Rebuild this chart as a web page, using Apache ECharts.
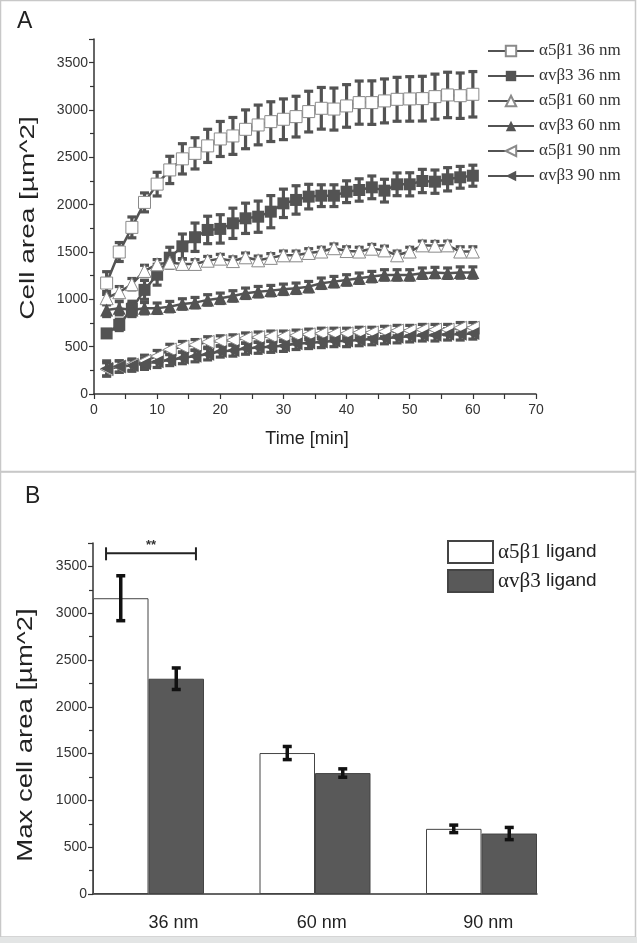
<!DOCTYPE html>
<html><head><meta charset="utf-8">
<script src="https://cdn.jsdelivr.net/npm/echarts@6/dist/echarts.min.js"></script>
<style>html,body{margin:0;padding:0;background:#fff}#c{width:637px;height:943px}</style>
</head><body><div id="c"></div>
<script>
// ---------- Panel A data ----------
const times = [2,4,6,8,10,12,14,16,18,20,22,24,26,28,30,32,34,36,38,40,42,44,46,48,50,52,54,56,58,60];
const a5b1_36 = [1172,1500,1760,2024,2217,2367,2484,2542,2621,2694,2726,2796,2842,2877,2902,2930,2983,3018,3010,3043,3078,3078,3096,3113,3117,3120,3141,3159,3151,3166];
const a5b1_36_err = [120,100,110,100,125,144,160,165,175,185,195,205,210,210,215,215,215,220,222,225,228,230,232,232,235,236,238,240,240,240];
const avb3_36 = [640,730,900,1100,1260,1440,1560,1656,1733,1744,1803,1856,1873,1926,2014,2050,2085,2095,2095,2137,2155,2183,2148,2215,2215,2250,2243,2268,2289,2306];
const avb3_36_err = [40,60,80,100,110,110,130,150,145,150,160,160,165,170,150,150,130,115,115,115,118,120,120,120,122,123,123,123,115,111];
const a5b1_60 = [1012,1075,1160,1300,1370,1388,1374,1374,1408,1430,1404,1444,1412,1438,1465,1465,1490,1505,1540,1510,1505,1535,1517,1465,1505,1570,1567,1570,1505,1505];
const a5b1_60_err = [70,60,60,60,50,50,50,45,45,45,45,45,45,45,45,45,45,45,45,45,45,45,45,45,45,45,45,45,50,50];
const avb3_60 = [888,906,888,906,906,923,951,965,994,1011,1036,1064,1081,1092,1106,1117,1134,1170,1187,1205,1223,1240,1258,1258,1258,1276,1283,1276,1283,1283];
const avb3_60_err = [70,70,70,60,55,55,55,55,55,55,55,55,55,55,55,55,55,55,55,55,55,55,55,55,55,55,55,55,60,60];
const a5b1_90 = [260,290,310,350,400,470,500,520,550,560,570,590,600,610,610,620,630,640,640,640,650,650,660,670,670,680,680,680,700,700];
const a5b1_90_err = [70,60,60,60,60,55,55,55,55,55,55,55,55,55,55,55,55,55,55,55,55,55,55,55,55,55,55,55,55,55];
const avb3_90 = [270,290,300,320,340,360,380,400,420,450,460,480,490,500,510,530,540,550,560,560,570,580,590,600,610,620,620,630,630,640];
const avb3_90_err = [80,60,60,60,60,60,60,60,60,60,60,60,60,60,60,60,60,60,60,60,60,60,60,60,60,60,60,60,60,60];
const namesA = ['α5β1 36 nm','αvβ3 36 nm','α5β1 60 nm','αvβ3 60 nm','α5β1 90 nm','αvβ3 90 nm'];
const titleA_x = 'Time [min]';
const titleA_y = 'Cell area [µm^2]';

// ---------- Panel B data ----------
const barCats = ['36 nm','60 nm','90 nm'];
const barA5B1 = [3160,1506,696];
const barA5B1_err = [240,70,40];
const barAvB3 = [2300,1292,646];
const barAvB3_err = [115,45,65];
const namesB = ['α5β1 ligand','αvβ3 ligand'];
const titleB_y = 'Max cell area [µm^2]';
const sigBracket = [0.745, 1.285, 3640]; // from, to (x units), level
const sigText = '**';

// ---------- styling ----------
const DARK = '#535353';
const SANS = 'Liberation Sans';
const SERIF = 'Liberation Serif';
const labelShift = [0.15, 0.04, 0.04];
const barPx = 55.5;

const chart = echarts.init(document.getElementById('c'), null, {renderer:'canvas'});

function errBars(vals, errs, opt) {
  return {
    type: 'custom', xAxisIndex: opt.xi, yAxisIndex: opt.yi, z: opt.z || 2, silent: true,
    data: vals.map((v, i) => [opt.xs[i], v, errs[i]]),
    encode: {x: 0, y: 1},
    renderItem: function (params, api) {
      const x = api.value(0), y = api.value(1), e = api.value(2);
      const t = api.coord([x, y + e]), b = api.coord([x, y - e]);
      const dx = opt.dx || 0, cw = opt.cap;
      const tx = t[0] + dx;
      const st = {stroke: opt.color, lineWidth: opt.lw};
      return {type: 'group', children: [
        {type: 'line', shape: {x1: tx, y1: t[1], x2: tx, y2: b[1]}, style: st},
        {type: 'line', shape: {x1: tx - cw, y1: t[1], x2: tx + cw, y2: t[1]}, style: st},
        {type: 'line', shape: {x1: tx - cw, y1: b[1], x2: tx + cw, y2: b[1]}, style: st}
      ]};
    }
  };
}

const specA = [
  {vals: a5b1_36, errs: a5b1_36_err, symbol: 'rect', size: 12, rot: 0, open: true},
  {vals: avb3_36, errs: avb3_36_err, symbol: 'rect', size: 12, rot: 0, open: false},
  {vals: a5b1_60, errs: a5b1_60_err, symbol: 'triangle', size: 13, rot: 0, open: true},
  {vals: avb3_60, errs: avb3_60_err, symbol: 'triangle', size: 13, rot: 0, open: false},
  {vals: a5b1_90, errs: a5b1_90_err, symbol: 'triangle', size: 13, rot: 90, open: true},
  {vals: avb3_90, errs: avb3_90_err, symbol: 'triangle', size: 13, rot: 90, open: false}
];

const series = [];
specA.forEach((s) => {
  series.push(errBars(s.vals, s.errs, {xi: 0, yi: 0, xs: times, color: DARK, lw: 3.2, cap: 4.5, z: 2}));
});
specA.forEach((s, k) => {
  series.push({
    name: namesA[k], type: 'line', xAxisIndex: 0, yAxisIndex: 0, z: 3,
    data: times.map((t, i) => [t, s.vals[i]]),
    symbol: s.symbol, symbolSize: s.size, symbolRotate: s.rot, showAllSymbol: true,
    lineStyle: {color: DARK, width: 2.5},
    itemStyle: s.open ? {color: '#ffffff', borderColor: '#8a8a8a', borderWidth: 1} : {color: DARK, borderColor: DARK, borderWidth: 0},
    emphasis: {disabled: true}, animation: false
  });
});

// Panel B
const barXs = barCats.map((c, i) => i + 1);
series.push({
  name: namesB[0], type: 'bar', xAxisIndex: 1, yAxisIndex: 1,
  data: barXs.map((x, i) => [x, barA5B1[i]]),
  barWidth: barPx, barGap: '0%',
  itemStyle: {color: '#ffffff', borderColor: '#444', borderWidth: 1},
  emphasis: {disabled: true}, animation: false
});
series.push({
  name: namesB[1], type: 'bar', xAxisIndex: 1, yAxisIndex: 1,
  data: barXs.map((x, i) => [x, barAvB3[i]]),
  barWidth: barPx, barGap: '0%',
  itemStyle: {color: '#595959', borderColor: '#444', borderWidth: 1},
  emphasis: {disabled: true}, animation: false
});
series.push(errBars(barA5B1, barA5B1_err, {xi: 1, yi: 1, xs: barXs, color: '#111', lw: 3.5, cap: 4.5, dx: -barPx / 2, z: 5}));
series.push(errBars(barAvB3, barAvB3_err, {xi: 1, yi: 1, xs: barXs, color: '#111', lw: 3.5, cap: 4.5, dx: barPx / 2, z: 5}));
series.push({
  type: 'custom', xAxisIndex: 1, yAxisIndex: 1, z: 6, silent: true,
  data: [sigBracket], encode: {x: [0, 1], y: 2},
  renderItem: function (params, api) {
    const a = api.coord([api.value(0), api.value(2)]);
    const b = api.coord([api.value(1), api.value(2)]);
    const st = {stroke: '#222', lineWidth: 2};
    return {type: 'group', children: [
      {type: 'line', shape: {x1: a[0], y1: a[1], x2: b[0], y2: b[1]}, style: st},
      {type: 'line', shape: {x1: a[0], y1: a[1] - 6, x2: a[0], y2: a[1] + 7}, style: st},
      {type: 'line', shape: {x1: b[0], y1: b[1] - 6, x2: b[0], y2: b[1] + 7}, style: st},
      {type: 'text', style: {text: sigText, x: (a[0] + b[0]) / 2, y: a[1] - 1, align: 'center', verticalAlign: 'bottom', fontSize: 13, fontWeight: 'bold', fontFamily: SANS, fill: '#333'}}
    ]};
  }
});

const axisLineStyle = {lineStyle: {color: '#333', width: 1.5}};
const tickLabel = {color: '#333', fontSize: 14, fontFamily: SANS, formatter: (v) => String(v)};

const option = {
  animation: false,
  backgroundColor: '#ffffff',
  grid: [
    {left: 94, top: 39, width: 442, height: 355},
    {left: 93, top: 543, width: 444, height: 351}
  ],
  xAxis: [
    {type: 'value', gridIndex: 0, min: 0, max: 70, interval: 10,
     axisLine: axisLineStyle, axisTick: {length: 5, lineStyle: {color: '#333', width: 1.2}},
     minorTick: {show: true, splitNumber: 2, length: 5, lineStyle: {color: '#333', width: 1.2}},
     splitLine: {show: false}, axisLabel: Object.assign({margin: 9}, tickLabel),
     name: titleA_x, nameLocation: 'middle', nameGap: 36,
     nameTextStyle: {fontSize: 18, fontFamily: SANS, color: '#222', padding: [0, 16, 0, 0]}},
    {type: 'value', gridIndex: 1, min: 1 - 1 / 3, max: 3 + 1 / 3,
     axisLine: axisLineStyle, axisTick: {show: false}, splitLine: {show: false},
     axisLabel: {customValues: barXs.map((x, i) => x + labelShift[i]), margin: 20,
       formatter: (v) => barCats[Math.round(v) - 1], fontSize: 18, fontFamily: SANS, color: '#222'}}
  ],
  yAxis: [
    {type: 'value', gridIndex: 0, min: 0, max: 3750, interval: 500,
     axisLine: Object.assign({show: true}, axisLineStyle),
     axisTick: {length: 5, lineStyle: {color: '#333', width: 1.2}},
     minorTick: {show: true, splitNumber: 2, length: 4, lineStyle: {color: '#333', width: 1.2}},
     splitLine: {show: false}, axisLabel: Object.assign({margin: 6, showMaxLabel: false}, tickLabel)},
    {type: 'value', gridIndex: 1, min: 0, max: 3750, interval: 500,
     axisLine: Object.assign({show: true}, axisLineStyle),
     axisTick: {length: 5, lineStyle: {color: '#333', width: 1.2}},
     minorTick: {show: true, splitNumber: 2, length: 4, lineStyle: {color: '#333', width: 1.2}},
     splitLine: {show: false}, axisLabel: Object.assign({margin: 6, showMaxLabel: false}, tickLabel)}
  ],
  legend: [
    {data: namesA, orient: 'vertical', left: 482, top: 36, itemWidth: 46, itemHeight: 13, itemGap: 5,
     selectedMode: false, textStyle: {fontFamily: SERIF, fontSize: 17, color: '#333', lineHeight: 20}},
    {data: namesB, orient: 'vertical', left: 442, top: 535, itemWidth: 45, itemHeight: 22, itemGap: 5,
     selectedMode: false, icon: 'rect',
     formatter: (n) => { const p = n.split(' '); return '{g|' + p[0] + '}{s| ' + p[1] + '}'; },
     textStyle: {color: '#222', rich: {g: {fontFamily: SERIF, fontSize: 21, color: '#222'}, s: {fontFamily: SANS, fontSize: 19, color: '#222'}}}}
  ],
  graphic: [
    {type: 'rect', shape: {x: 0.5, y: 0.5, width: 635, height: 471}, style: {fill: 'none', stroke: '#c8c8c8', lineWidth: 1.5}, z: -1},
    {type: 'rect', shape: {x: 0.5, y: 472, width: 635, height: 465}, style: {fill: 'none', stroke: '#c8c8c8', lineWidth: 1.5}, z: -1},
    {type: 'rect', shape: {x: 0, y: 937, width: 637, height: 6}, style: {fill: '#e3e5e5'}, z: -1},
    {type: 'text', left: 17, top: 10, style: {text: 'A', fontSize: 23, fontFamily: SANS, fill: '#222'}},
    {type: 'text', left: 25, top: 485, style: {text: 'B', fontSize: 23, fontFamily: SANS, fill: '#222'}},
    {type: 'text', x: 28, y: 218, rotation: Math.PI / 2, scaleX: 1.4,
     style: {text: titleA_y, align: 'center', verticalAlign: 'middle', fontSize: 20, fontFamily: SANS, fill: '#222'}},
    {type: 'text', x: 26, y: 735, rotation: Math.PI / 2, scaleX: 1.25,
     style: {text: titleB_y, align: 'center', verticalAlign: 'middle', fontSize: 22, fontFamily: SANS, fill: '#222'}}
  ],
  series: series
};
chart.setOption(option);
</script></body></html>
